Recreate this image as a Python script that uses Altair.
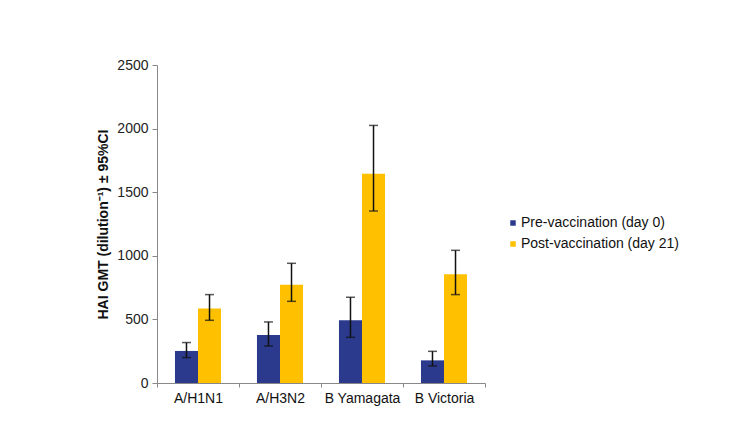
import altair as alt
import pandas as pd

strains = ["A/H1N1", "A/H3N2", "B Yamagata", "B Victoria"]
series = ["Pre-vaccination (day 0)", "Post-vaccination (day 21)"]
pre_gmt = [252, 377, 493, 178]
pre_lo = [200, 291, 359, 134]
pre_hi = [318, 480, 674, 249]
post_gmt = [585, 773, 1646, 855]
post_lo = [493, 642, 1352, 695]
post_hi = [695, 941, 2025, 1043]
colors = ["#2B3A8C", "#FFC000"]

rows = []
for i, s in enumerate(strains):
    rows.append({"strain": s, "group": series[0], "gmt": pre_gmt[i], "lo": pre_lo[i], "hi": pre_hi[i]})
    rows.append({"strain": s, "group": series[1], "gmt": post_gmt[i], "lo": post_lo[i], "hi": post_hi[i]})
df = pd.DataFrame(rows)

font = "Liberation Sans"

x = alt.X("strain:N", sort=strains, title=None,
          scale=alt.Scale(paddingInner=0, paddingOuter=0),
          axis=alt.Axis(labelAngle=0, tickBand="extent", labelFontSize=14, labelColor="#111",
                        domainColor="#888", tickColor="#888", labelPadding=4, tickSize=4))
xo = alt.XOffset("group:N", sort=series,
                 scale=alt.Scale(paddingInner=0, paddingOuter=0.78))
y = alt.Y("gmt:Q", title="HAI GMT (dilution⁻¹) ± 95%CI",
          scale=alt.Scale(domain=[0, 2500], nice=False, zero=True),
          axis=alt.Axis(values=[0, 500, 1000, 1500, 2000, 2500], format="d", grid=False,
                        labelFontSize=14, labelColor="#222", domainColor="#888", labelPadding=4,
                        tickColor="#888", tickSize=5, titleFontSize=14, titleFontWeight="bold",
                        titleColor="#111", titlePadding=6))

bars = alt.Chart(df).mark_bar().encode(
    x=x, xOffset=xo, y=y,
    color=alt.Color("group:N", sort=series, title=None,
                    scale=alt.Scale(domain=series, range=colors),
                    legend=alt.Legend(orient="none", legendX=349, legendY=151,
                                      symbolType="square", symbolSize=30,
                                      labelFontSize=14, labelColor="#111",
                                      rowPadding=7, symbolOffset=0, labelOffset=1,
                                      symbolStrokeWidth=0)),
)

rules = alt.Chart(df).mark_rule(color="#111", strokeWidth=1.5).encode(
    x=x, xOffset=xo, y=alt.Y("lo:Q"), y2="hi:Q")
cap_hi = alt.Chart(df).mark_tick(color="#111", thickness=1.5, size=9).encode(
    x=x, xOffset=xo, y=alt.Y("hi:Q"))
cap_lo = alt.Chart(df).mark_tick(color="#111", thickness=1.5, size=9).encode(
    x=x, xOffset=xo, y=alt.Y("lo:Q"))

chart = alt.layer(bars, rules, cap_hi, cap_lo).properties(
    width=328, height=318,
    autosize=alt.AutoSizeParams(type="none"),
    padding={"left": 149, "top": 57, "right": 240, "bottom": 30},
).configure(font=font).configure_view(stroke=None)

chart.save("out.html", embed_options={"renderer": "svg", "actions": False})
